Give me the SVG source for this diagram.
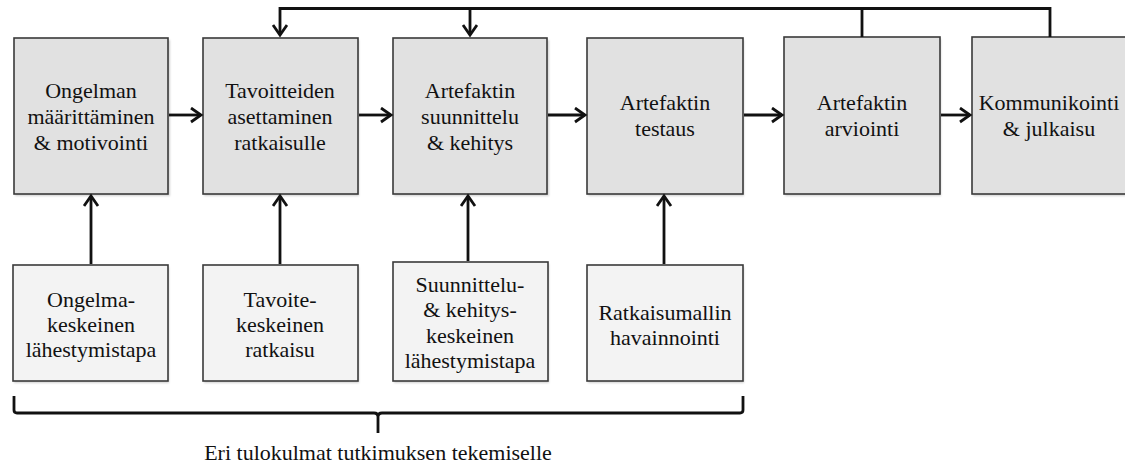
<svg xmlns="http://www.w3.org/2000/svg" width="1125" height="466" viewBox="0 0 1125 466">
  <style>
    .box { stroke: #3a3a3a; stroke-width: 1.6; }
    .main { fill: #e1e1e1; }
    .sub { fill: #f3f3f3; }
    .shadow { fill: #000; opacity: 0.18; }
    text { font-size: 22px; fill: #111; text-anchor: middle; }
    .conn { fill: none; stroke: #111; stroke-width: 2.8; }
  </style>
  <defs>
    <filter id="soft" x="-10%" y="-10%" width="120%" height="120%">
      <feGaussianBlur stdDeviation="1.2"/>
    </filter>
    <marker id="arrow" markerUnits="userSpaceOnUse" markerWidth="14" markerHeight="18" refX="11" refY="8" orient="auto">
      <path d="M1,1 L11,8 L1,15" fill="none" stroke="#111" stroke-width="2.8" stroke-linejoin="miter"/>
    </marker>
  </defs>
  <rect width="1125" height="466" fill="#fff"/>

  <g font-family="'Liberation Serif', 'Times New Roman', 'DejaVu Serif', serif">
  <!-- process steps -->
  <g id="step-problem">
    <rect class="shadow" x="15" y="40" width="155" height="156" filter="url(#soft)"/>
    <rect class="box main" x="14" y="38" width="154" height="156"/>
    <text x="91" y="98">Ongelman</text>
    <text x="91" y="124">määrittäminen</text>
    <text x="91" y="150">&amp; motivointi</text>
  </g>
  <g id="step-objectives">
    <rect class="shadow" x="204" y="40" width="155" height="156" filter="url(#soft)"/>
    <rect class="box main" x="203" y="38" width="155" height="156"/>
    <text x="280" y="98">Tavoitteiden</text>
    <text x="280" y="124">asettaminen</text>
    <text x="280" y="150">ratkaisulle</text>
  </g>
  <g id="step-design">
    <rect class="shadow" x="394" y="40" width="155" height="156" filter="url(#soft)"/>
    <rect class="box main" x="393" y="38" width="154" height="156"/>
    <text x="470" y="98">Artefaktin</text>
    <text x="470" y="124">suunnittelu</text>
    <text x="470" y="150">&amp; kehitys</text>
  </g>
  <g id="step-testing">
    <rect class="shadow" x="588" y="40" width="156" height="156" filter="url(#soft)"/>
    <rect class="box main" x="587" y="38" width="156" height="156"/>
    <text x="665" y="110">Artefaktin</text>
    <text x="665" y="136">testaus</text>
  </g>
  <g id="step-evaluation">
    <rect class="shadow" x="785" y="39" width="156" height="157" filter="url(#soft)"/>
    <rect class="box main" x="784" y="37" width="156" height="157"/>
    <text x="862" y="110">Artefaktin</text>
    <text x="862" y="136">arviointi</text>
  </g>
  <g id="step-communication">
    <rect class="shadow" x="973" y="39" width="160" height="157" filter="url(#soft)"/>
    <rect class="box main" x="972" y="37" width="160" height="157"/>
    <text x="1049" y="110">Kommunikointi</text>
    <text x="1049" y="136">&amp; julkaisu</text>
  </g>

  <!-- entry points -->
  <g id="entry-problem">
    <rect class="shadow" x="14" y="267" width="155" height="116" filter="url(#soft)"/>
    <rect class="box sub" x="13" y="265" width="155" height="116"/>
    <text x="91" y="307">Ongelma-</text>
    <text x="91" y="332">keskeinen</text>
    <text x="91" y="357">lähestymistapa</text>
  </g>
  <g id="entry-objective">
    <rect class="shadow" x="204" y="267" width="155" height="116" filter="url(#soft)"/>
    <rect class="box sub" x="203" y="265" width="155" height="116"/>
    <text x="280" y="307">Tavoite-</text>
    <text x="280" y="332">keskeinen</text>
    <text x="280" y="357">ratkaisu</text>
  </g>
  <g id="entry-design">
    <rect class="shadow" x="394" y="264" width="155" height="119" filter="url(#soft)"/>
    <rect class="box sub" x="393" y="262" width="155" height="119"/>
    <text x="470" y="292">Suunnittelu-</text>
    <text x="470" y="317">&amp; kehitys-</text>
    <text x="470" y="343">keskeinen</text>
    <text x="470" y="368">lähestymistapa</text>
  </g>
  <g id="entry-observation">
    <rect class="shadow" x="588" y="267" width="156" height="116" filter="url(#soft)"/>
    <rect class="box sub" x="587" y="265" width="156" height="116"/>
    <text x="665" y="320">Ratkaisumallin</text>
    <text x="665" y="345">havainnointi</text>
  </g>

  <!-- connectors -->
  <g id="connectors">
    <line class="conn" x1="169" y1="115" x2="201" y2="115" marker-end="url(#arrow)"/>
    <line class="conn" x1="359" y1="115" x2="391" y2="115" marker-end="url(#arrow)"/>
    <line class="conn" x1="548" y1="115" x2="585" y2="115" marker-end="url(#arrow)"/>
    <line class="conn" x1="744" y1="115" x2="782" y2="115" marker-end="url(#arrow)"/>
    <line class="conn" x1="941" y1="115" x2="970" y2="115" marker-end="url(#arrow)"/>

    <line class="conn" x1="91" y1="264" x2="91" y2="196" marker-end="url(#arrow)"/>
    <line class="conn" x1="280" y1="264" x2="280" y2="196" marker-end="url(#arrow)"/>
    <line class="conn" x1="468" y1="261" x2="468" y2="196" marker-end="url(#arrow)"/>
    <line class="conn" x1="664" y1="264" x2="664" y2="196" marker-end="url(#arrow)"/>

    <path class="conn" d="M1050,37 V8.5 H280 V35" marker-end="url(#arrow)"/>
    <line class="conn" x1="470" y1="8.5" x2="470" y2="35" marker-end="url(#arrow)"/>
    <line class="conn" x1="862" y1="8.5" x2="862" y2="37"/>
  </g>

  <!-- bracket grouping the entry points -->
  <g id="brace">
    <path class="conn" d="M14,396 V410 Q14,413 17,413 H374 Q378,413 378,417 V433 M378,417 Q378,413 382,413 H740 Q743,413 743,410 V396"/>
    <text x="378" y="460">Eri tulokulmat tutkimuksen tekemiselle</text>
  </g>
  </g>
</svg>
